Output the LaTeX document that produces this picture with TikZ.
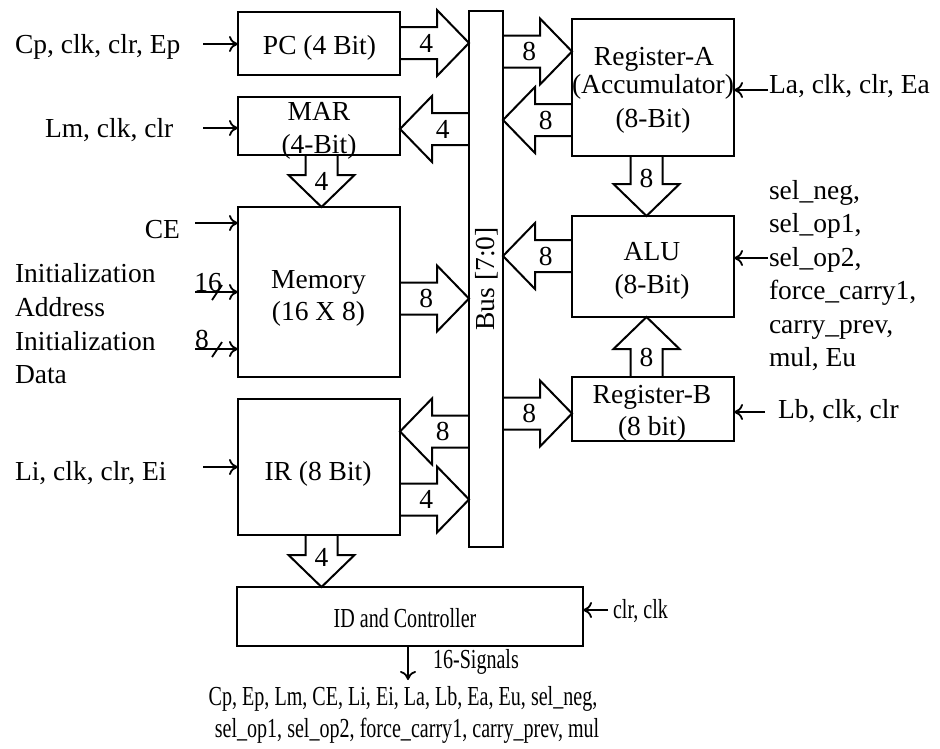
\documentclass[tikz,border=0pt]{standalone}
\usepackage{fontspec}
\setmainfont{Liberation Serif}
\newfontfamily\condfont[FakeStretch=0.73]{Liberation Serif}
\usetikzlibrary{calc,arrows.meta}
\newcommand\fs{\fontsize{27.5}{33}\selectfont}
\newcommand\fatarrow[5][0.38]{%
  \coordinate (fS) at (#3);
  \coordinate (fT) at (#4);
  \coordinate (fB) at ($(fT)!32pt!(fS)$);
  \draw[fatline] ($(fS)!16pt!90:(fT)$) -- ($(fB)!16pt!90:(fT)$) -- ($(fB)!33pt!90:(fT)$) -- (fT)
     -- ($(fB)!33pt!-90:(fT)$) -- ($(fB)!16pt!-90:(fT)$) -- ($(fS)!16pt!-90:(fT)$);
  \node[lbl] (#2) at ($(fS)!#1!(fT)$) {#5};
}
\begin{document}
\begin{tikzpicture}[x=1pt,y=-1pt,
  every node/.style={font=\fs, inner sep=0pt, outer sep=0pt},
  blk/.style={draw, line width=2pt, rectangle},
  fatline/.style={line width=2pt, line join=miter},
  lbl/.style={anchor=center},
  sig/.style={line width=1.8pt, -{Computer Modern Rightarrow[length=9pt,width=16pt]}},
  txt/.style={anchor=base},
  txtl/.style={anchor=base west},
  cond/.style={font=\fs\condfont}]
\useasboundingbox (0,0) rectangle (940,748);

% blocks
\node[blk, minimum width=162pt, minimum height=63pt] (pc) at (319,43.5) {};
\node[blk, minimum width=162pt, minimum height=58pt] (mar) at (319,126) {};
\node[blk, minimum width=162pt, minimum height=170pt] (mem) at (319,292) {};
\node[blk, minimum width=162pt, minimum height=136pt] (ir) at (319,467) {};
\node[blk, minimum width=34pt, minimum height=536pt] (bus) at (486,279) {};
\node[blk, minimum width=162pt, minimum height=137pt] (rega) at (653,87.5) {};
\node[blk, minimum width=162pt, minimum height=101pt] (alu) at (653,266.5) {};
\node[blk, minimum width=162pt, minimum height=64pt] (regb) at (653,409) {};
\node[blk, minimum width=346pt, minimum height=59pt] (id) at (410,616.5) {};

% block texts
\node[txt] (tpc) at (319.5,54) {PC (4 Bit)};
\node[txt] (tmar1) at (319,120) {MAR};
\node[txt] (tmar2) at (319,153) {(4-Bit)};
\node[txt] (tmem1) at (318.5,288) {Memory};
\node[txt] (tmem2) at (318.5,320) {(16 X 8)};
\node[txt] (tir) at (318,480) {IR (8 Bit)};
\node[txt] (tra1) at (654,65) {Register-A};
\node[txt] (tra2) at (653,93) {(Accumulator)};
\node[txt] (tra3) at (653,127) {(8-Bit)};
\node[txt] (talu1) at (652,260) {ALU};
\node[txt] (talu2) at (652,293) {(8-Bit)};
\node[txt] (trb1) at (652,403) {Register-B};
\node[txt] (trb2) at (652,435) {(8 bit)};
\node[anchor=center, rotate=90] (tbus) at (487,279) {Bus [7:0]};
\node[txt, cond] (tid) at (405,627) {ID and Controller};

% fat arrows
\fatarrow{l1}{pc.east |- 0,43}{bus.west |- 0,43}{4}
\fatarrow{l2}{bus.west |- 0,129}{mar.east |- 0,129}{4}
\fatarrow[0.5]{l3}{mar.south -| 321.5,0}{mem.north -| 321.5,0}{4}
\fatarrow{l4}{mem.east |- 0,298.5}{bus.west |- 0,298.5}{8}
\fatarrow{l5}{bus.west |- 0,431.5}{ir.east |- 0,431.5}{8}
\fatarrow{l6}{ir.east |- 0,499.5}{bus.west |- 0,499.5}{4}
\fatarrow[0.43]{l7}{ir.south -| 321.5,0}{id.north -| 321.5,0}{4}
\fatarrow{l8}{bus.east |- 0,51.5}{rega.west |- 0,51.5}{8}
\fatarrow{l9}{rega.west |- 0,120}{bus.east |- 0,120}{8}
\fatarrow{l10}{rega.south -| 646.5,0}{alu.north -| 646.5,0}{8}
\fatarrow{l11}{alu.west |- 0,256}{bus.east |- 0,256}{8}
\fatarrow[0.33]{l12}{regb.north -| 646.5,0}{alu.south -| 646.5,0}{8}
\fatarrow{l13}{bus.east |- 0,413.5}{regb.west |- 0,413.5}{8}

% left control inputs
\node[txtl] (cpt) at (15,53) {Cp, clk, clr, Ep};
\coordinate (cpS) at (203,44);
\draw[sig] (cpS) -- (cpS -| pc.west);
\node[txtl] (lmt) at (45,137) {Lm, clk, clr};
\coordinate (lmS) at (203,128);
\draw[sig] (lmS) -- (lmS -| mar.west);
\node[anchor=base east] (cet) at (180,238) {CE};
\coordinate (ceS) at (195,223);
\draw[sig] (ceS) -- (ceS -| mem.west);
\node[txtl] (ia1) at (15,282) {Initialization};
\node[txtl] (ia2) at (15,316) {Address};
\node[txtl] (id1) at (15,350) {Initialization};
\node[txtl] (id2) at (15,383) {Data};
\coordinate (iaS) at (195,292);
\draw[sig] (iaS) -- (iaS -| mem.west);
\draw[line width=1.8pt] ($(iaS)+(17,8)$) -- ($(iaS)+(27,-7)$);
\node[txt] (n16) at (208,291) {16};
\coordinate (idS) at (195,349);
\draw[sig] (idS) -- (idS -| mem.west);
\draw[line width=1.8pt] ($(idS)+(17,8)$) -- ($(idS)+(27,-7)$);
\node[txt] (n8) at (202,348) {8};
\node[txtl] (lit) at (15,480) {Li, clk, clr, Ei};
\coordinate (liS) at (203,467);
\draw[sig] (liS) -- (liS -| ir.west);

% right control inputs
\node[txtl] (lat) at (769,93) {La, clk, clr, Ea};
\coordinate (laS) at (768,90);
\draw[sig] (laS) -- (laS -| rega.east);
\node[txtl] (c1) at (769,199) {sel\_neg,};
\node[txtl] (c2) at (769,232.5) {sel\_op1,};
\node[txtl] (c3) at (769,266) {sel\_op2,};
\node[txtl] (c4) at (769,299.5) {force\_carry1,};
\node[txtl] (c5) at (769,333) {carry\_prev,};
\node[txtl] (c6) at (769,366.5) {mul, Eu};
\coordinate (aluS) at (768,258);
\draw[sig] (aluS) -- (aluS -| alu.east);
\node[txtl] (lbt) at (778,418) {Lb, clk, clr};
\coordinate (lbS) at (765,412);
\draw[sig] (lbS) -- (lbS -| regb.east);

% controller
\node[txtl, cond] (clrt) at (613,618) {clr, clk};
\coordinate (clS) at (608,610);
\draw[sig] (clS) -- (clS -| id.east);
\coordinate (sigE) at (408,680);
\draw[sig] (sigE |- id.south) -- (sigE);
\node[txtl, cond] (sigt) at (433,668) {16-Signals};
\node[txt, cond] (out1) at (403,705) {Cp, Ep, Lm, CE, Li, Ei, La, Lb, Ea, Eu, sel\_neg,};
\node[txt, cond] (out2) at (407,737) {sel\_op1, sel\_op2, force\_carry1, carry\_prev, mul};
\end{tikzpicture}
\end{document}
